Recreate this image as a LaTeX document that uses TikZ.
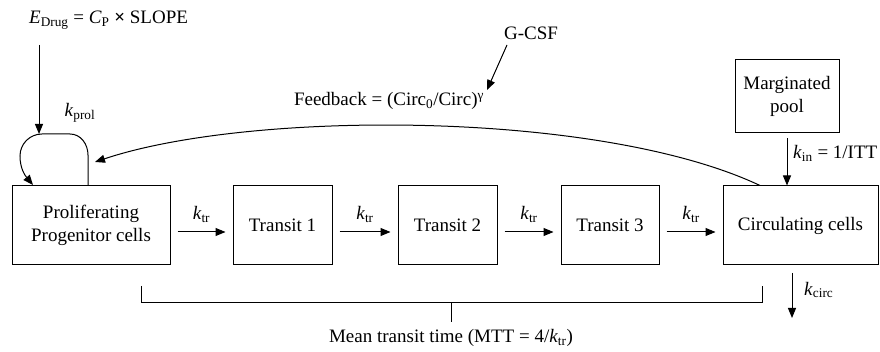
\documentclass[tikz,border=0pt]{standalone}
\usepackage{fontspec}
\setmainfont{Liberation Serif}
\usetikzlibrary{arrows.meta}
\newcommand{\kk}[1]{\textit{k}\textsubscript{#1}}
\begin{document}
\begin{tikzpicture}[x=1pt,y=-1pt, font=\fontsize{19}{23}\selectfont,
  box/.style={draw, line width=1pt, inner sep=0pt, align=center, minimum height=79pt},
  arr/.style={-{Triangle[length=10pt,width=8pt]}, line width=1pt},
  plain/.style={line width=1pt},
  lbl/.style={inner sep=0pt}]
\useasboundingbox (0,0) rectangle (880,352);

% boxes
\node[box, minimum width=158pt] (prol) at (91,225.5) {Proliferating\\Progenitor cells};
\node[box, minimum width=99pt] (t1) at (282.5,225.5) {Transit 1};
\node[box, minimum width=99pt] (t2) at (447.5,225.5) {Transit 2};
\node[box, minimum width=98pt] (t3) at (610,225.5) {Transit 3};
\node[box, minimum width=155pt] (circ) at (800.5,225.5) {Circulating cells};
\node[box, minimum width=104pt, minimum height=73pt] (pool) at (787,96.5) {Marginated\\pool};

% k_tr arrows
\foreach \a/\b in {prol/t1, t1/t2, t2/t3, t3/circ}{
  \draw[arr] ([xshift=7pt,yshift=-6.5pt]\a.east) -- ([xshift=-7pt,yshift=-6.5pt]\b.west)
    node[lbl, midway, above=9pt] {\kk{tr}};
}

% marginated pool -> circulating
\draw[arr] ([yshift=-5pt]pool.south) -- (pool.south |- circ.north);
\node[lbl, anchor=west] (kin) at (793,153) {\kk{in} = 1/ITT};

% feedback
\coordinate (fbs) at ([xshift=-40.5pt]circ.north);
\coordinate (fbe) at (95,162);
\draw[arr] (fbs) .. controls (600,110) and (250,110) .. (fbe);
\node[lbl] (fb) at (389,101) {Feedback = (Circ\textsubscript{0}/Circ)\textsuperscript{γ}};

% G-CSF
\node[lbl] (gcsf) at (531,33) {G-CSF};
\coordinate (gs) at (507,45);
\coordinate (ge) at (487,90);
\draw[arr] (gs) -- (ge);

% E drug
\node[lbl, anchor=west] (edrug) at (29,20) {\textit{E}\textsubscript{Drug} = \textit{C}\textsubscript{P} \textbf{×} SLOPE};
\coordinate (es) at (39,45);
\coordinate (ee) at (39,134);
\draw[arr] (es) -- (ee);

% self loop
\coordinate (ls) at ([xshift=-3pt]prol.north);
\coordinate (le) at (33,185);
\draw[arr] (ls) -- (88,155) to[out=90,in=0] (70,134) -- (42,134)
  to[out=180,in=90] (20,156) to[out=-90,in=130] (le);
\node[lbl] (kprol) at (80,113) {\kk{prol}};

% k_circ
\coordinate (cs) at (792,273);
\coordinate (ce) at (792,318);
\draw[arr] (cs) -- (ce);
\node[lbl, anchor=west] (kcirc) at (804,290) {\kk{circ}};

% MTT bracket
\coordinate (bl) at (141,286);
\coordinate (br) at (762,286);
\coordinate (bm) at (451,303);
\coordinate (bt) at (451,322);
\draw[plain] (bl) -- (141,303) -- (762,303) -- (br);
\draw[plain] (bm) -- (bt);
\node[lbl] (mtt) at (451,338) {Mean transit time (MTT = 4/\kk{tr})};
\end{tikzpicture}
\end{document}
